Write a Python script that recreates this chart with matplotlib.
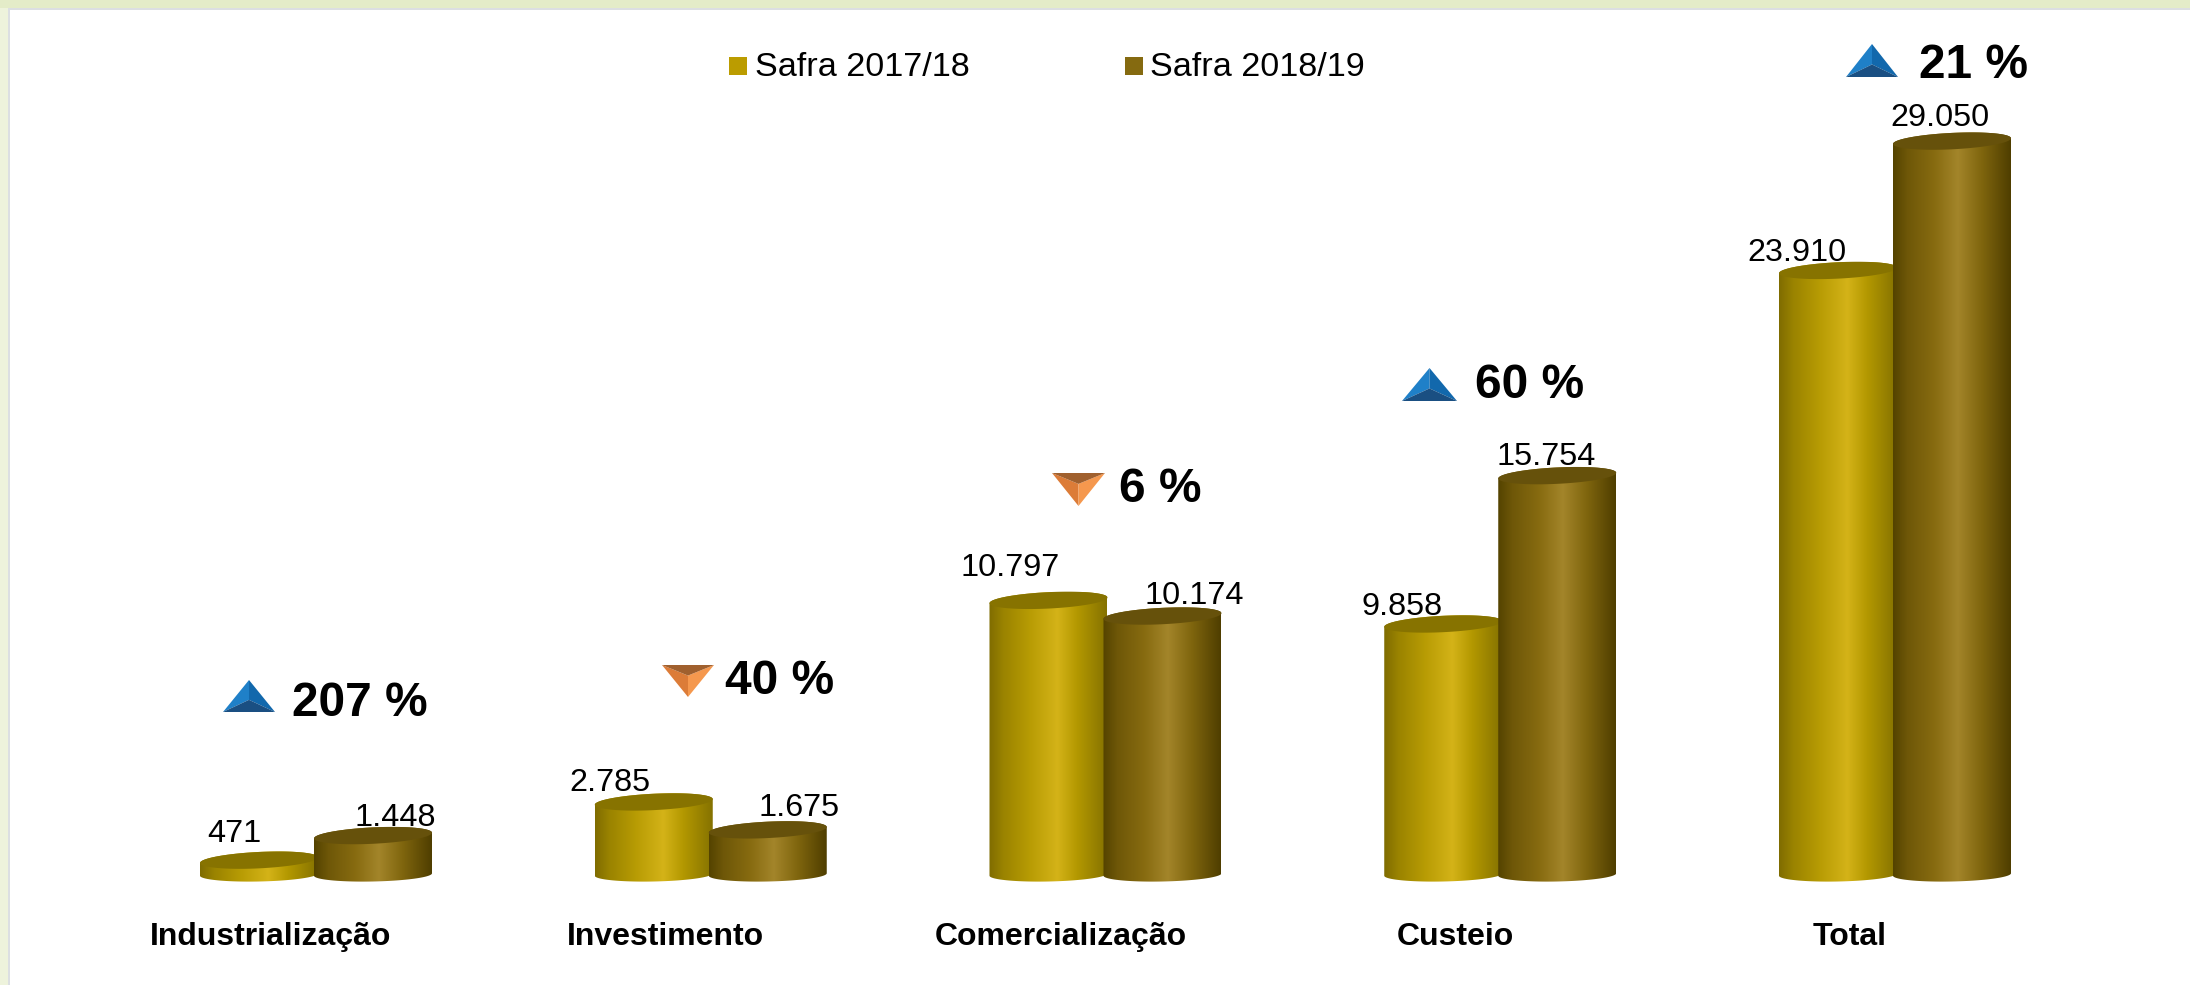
import numpy as np
import matplotlib
matplotlib.use('Agg')
import matplotlib.pyplot as plt
from matplotlib.colors import LinearSegmentedColormap
from matplotlib.patches import PathPatch, Polygon, Rectangle
from matplotlib.path import Path

plt.rcParams['font.family'] = ['Liberation Sans', 'DejaVu Sans']

categories = ['Industrialização', 'Investimento', 'Comercialização', 'Custeio', 'Total']
safra_1718 = [471, 2785, 10797, 9858, 23910]
safra_1819 = [1448, 1675, 10174, 15754, 29050]
variacao = [207, 40, 6, 60, 21]
sobe = [True, False, False, True, True]
series_names = ['Safra 2017/18', 'Safra 2018/19']

W, H = 2190, 985
GROUP_PX = 394.75
ZERO_X = 316.0
ZERO_Y = 872.0
PX_PER_UNIT = 0.02516
BAR_W = 118 / GROUP_PX
OFFSET = 57 / GROUP_PX
RY = 8.2 / PX_PER_UNIT
SKEW = 2.85 / PX_PER_UNIT
FOOT_DROP = 2.5 / PX_PER_UNIT
FOOT_RY = 7.0 / PX_PER_UNIT
FOOT_SKEW = 1.2 / PX_PER_UNIT

# label shifts in pixels, from the top of each bar
shift_1718 = [(-25, 26), (-44, 19), (-38, 32), (-41, 17), (-41, 17)]
shift_1819 = [(22, 18), (31, 22), (32, 20), (-11, 19), (-12, 23)]

# arrow box (left, right, top, bottom) and text start / centre, in pixels
arrow_boxes = [(223, 275, 680, 712), (662, 714, 665, 697), (1052, 1105, 473, 506),
               (1402, 1457, 368, 401), (1846, 1898, 44, 77)]
text_pos = [(292, 704), (725, 681), (1119, 490), (1475, 385), (1919, 66)]

gold = LinearSegmentedColormap.from_list('gold', [
    (0, '#7f6c00'), (0.12, '#9a8300'), (0.35, '#b89c04'), (0.58, '#d4b318'),
    (0.75, '#b39800'), (1, '#857200')])
brown = LinearSegmentedColormap.from_list('brown', [
    (0, '#544300'), (0.12, '#6e5708'), (0.35, '#876b10'), (0.55, '#a3852a'),
    (0.75, '#80660e'), (1, '#4f3e00')])
top_colors = ['#877300', '#66510b']
swatches = ['#bb9c00', '#856a10']


def cylinder(ax, x, value, cmap, top_color, zorder):
    t = np.linspace(0, 2 * np.pi, 121)
    edge_x = x + BAR_W / 2 * np.cos(t)
    top_y = value + RY * np.sin(t) + SKEW * np.cos(t)

    # outline of the body: lower half of the foot, then back over the top
    low = t[t >= np.pi]
    foot_x = x + BAR_W / 2 * np.cos(low)
    foot_y = -FOOT_DROP + FOOT_RY * np.sin(low) + FOOT_SKEW * np.cos(low)
    head = t[t <= np.pi]
    head_x = x + BAR_W / 2 * np.cos(head)
    head_y = value + RY * np.sin(head) + SKEW * np.cos(head)
    verts = np.vstack([np.column_stack([foot_x, foot_y]), np.column_stack([head_x, head_y])])
    body = Path(np.vstack([verts, verts[0]]), closed=True)

    grad = np.linspace(0, 1, 256).reshape(1, -1)
    im = ax.imshow(grad, cmap=cmap, aspect='auto', zorder=zorder,
                   extent=(x - BAR_W / 2, x + BAR_W / 2, foot_y.min(), top_y.max()))
    im.set_clip_path(PathPatch(body, transform=ax.transData))
    ax.fill(edge_x, top_y, color=top_color, lw=0, zorder=zorder + 0.1)


def arrow(px, box, up):
    left, right, top, bottom = box
    mid = (left + right) / 2
    if up:
        a, b, c = (mid, top), (left, bottom), (right, bottom)
        inner = (mid, top + (bottom - top) * 0.62)
        faces = ['#1f80c8', '#1268ac', '#1a4f82']
    else:
        a, b, c = (mid, bottom), (left, top), (right, top)
        inner = (mid, top + (bottom - top) * 0.33)
        faces = ['#dc7c38', '#f5984e', '#a0602e']
    px.add_patch(Polygon([a, b, inner], fc=faces[0], lw=0, zorder=5))
    px.add_patch(Polygon([a, c, inner], fc=faces[1], lw=0, zorder=5))
    px.add_patch(Polygon([b, c, inner], fc=faces[2], lw=0, zorder=5))


fig = plt.figure(figsize=(W / 100, H / 100), dpi=100, facecolor='white')

ax = fig.add_axes([0, 0, 1, 1])
ax.axis('off')

idx = np.arange(len(categories))
for i in idx:
    cylinder(ax, i - OFFSET, safra_1718[i], gold, top_colors[0], 2)
    cylinder(ax, i + OFFSET, safra_1819[i], brown, top_colors[1], 3)
    ax.annotate(f'{safra_1718[i]:,}'.replace(',', '.'), (i - OFFSET, safra_1718[i]),
                xytext=(shift_1718[i][0], shift_1718[i][1]), textcoords='offset pixels',
                ha='center', va='center', fontsize=23.3, color='black', zorder=6)
    ax.annotate(f'{safra_1819[i]:,}'.replace(',', '.'), (i + OFFSET, safra_1819[i]),
                xytext=(shift_1819[i][0], shift_1819[i][1]), textcoords='offset pixels',
                ha='center', va='center', fontsize=23.3, color='black', zorder=6)
    ax.annotate(categories[i], (i, 0), xytext=(-45, -65), textcoords='offset pixels',
                ha='center', va='center', fontsize=23, fontweight='bold', color='black')

ax.set_xlim(-ZERO_X / GROUP_PX, (W - ZERO_X) / GROUP_PX)
ax.set_ylim(-(H - ZERO_Y) / PX_PER_UNIT, ZERO_Y / PX_PER_UNIT)

# overlay in pixel coordinates: page border, legend, variation arrows
px = fig.add_axes([0, 0, 1, 1])
px.axis('off')
px.patch.set_alpha(0)
px.set_xlim(0, W)
px.set_ylim(H, 0)

px.add_patch(Rectangle((0, 0), 9, H, fc='#eef3dc', lw=0))
px.add_patch(Rectangle((0, 0), W, 8, fc='#e4ecc8', lw=0))
px.add_patch(Rectangle((8, 8), W, 1.5, fc='#dcdfe2', lw=0))
px.add_patch(Rectangle((8, 8), 1.5, H, fc='#dcdfe2', lw=0))

for name, col, sx in zip(series_names, swatches, [729, 1124.5]):
    px.add_patch(Rectangle((sx, 57), 18, 18, fc=col, lw=0))
    px.text(sx + 26, 67, name, ha='left', va='center', fontsize=24.6, color='black')

for box, (tx, ty), v, up in zip(arrow_boxes, text_pos, variacao, sobe):
    arrow(px, box, up)
    px.text(tx, ty, f'{v} %', ha='left', va='center', fontsize=34.5, fontweight='bold', color='black')

fig.savefig('out.png', dpi=100)
